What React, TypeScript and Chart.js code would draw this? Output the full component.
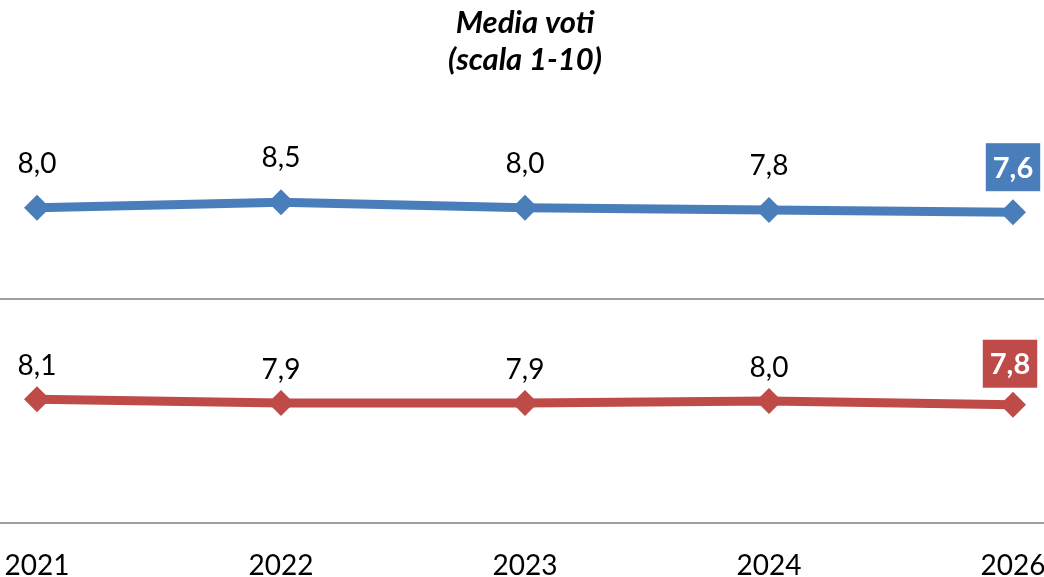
import React, { useEffect, useRef } from "react";
import { Chart, registerables } from "chart.js";

Chart.register(...registerables);

const years = ["2021", "2022", "2023", "2024", "2026"];
const seriesBlue = [8.0, 8.5, 8.0, 7.8, 7.6];
const seriesRed = [8.1, 7.9, 7.9, 8.0, 7.8];
const titleLines = ["Media voti", "(scala 1-10)"];

const BLUE = "#4A7EBB";
const RED = "#BE4B48";
const FONT = "Lato, 'Open Sans', sans-serif";

const fmt = (v: number) => v.toFixed(1).replace(".", ",");

const separatorPlugin = {
  id: "separators",
  beforeDatasetsDraw(chart: any) {
    const ctx = chart.ctx;
    ctx.save();
    ctx.strokeStyle = "#A0A0A0";
    ctx.lineWidth = 2;
    ["yTop", "yBot"].forEach((id) => {
      const s = chart.scales[id];
      const y = Math.round(s.bottom) + 1;
      ctx.beginPath();
      ctx.moveTo(0, y);
      ctx.lineTo(chart.width, y);
      ctx.stroke();
    });
    ctx.restore();
  },
};

const labelPlugin = {
  id: "valueLabels",
  afterDatasetsDraw(chart: any) {
    const ctx = chart.ctx;
    ctx.save();
    chart.data.datasets.forEach((ds: any, di: number) => {
      const meta = chart.getDatasetMeta(di);
      const offset = ds.labelOffset as number;
      meta.data.forEach((pt: any, i: number) => {
        const text = fmt(ds.data[i] as number);
        const last = i === ds.data.length - 1;
        ctx.textAlign = "center";
        ctx.textBaseline = "middle";
        if (last) {
          ctx.font = `bold 29px ${FONT}`;
          const w = ctx.measureText(text).width + 14;
          const h = 48;
          const cx = pt.x + ds.boxDx;
          const cy = pt.y - ds.boxOffset;
          ctx.fillStyle = ds.borderColor;
          ctx.fillRect(cx - w / 2, cy - h / 2, w, h);
          ctx.fillStyle = "#FFFFFF";
          ctx.fillText(text, cx, cy + 1);
        } else {
          ctx.font = `28px ${FONT}`;
          ctx.fillStyle = "#000000";
          ctx.fillText(text, pt.x, pt.y - offset);
        }
      });
    });
    ctx.restore();
  },
};

export default function App() {
  const ref = useRef<HTMLCanvasElement | null>(null);

  useEffect(() => {
    if (!ref.current) return;
    const chart = new Chart(ref.current, {
      type: "line",
      data: {
        labels: years,
        datasets: [
          {
            label: "Blu",
            data: seriesBlue,
            yAxisID: "yTop",
            borderColor: BLUE,
            backgroundColor: BLUE,
            borderWidth: 9,
            pointStyle: "rectRot",
            pointRadius: 13,
            pointBorderWidth: 0,
            pointBackgroundColor: BLUE,
            tension: 0,
            clip: false,
            labelOffset: 44,
            boxOffset: 45,
            boxDx: 0,
          } as any,
          {
            label: "Rosso",
            data: seriesRed,
            yAxisID: "yBot",
            borderColor: RED,
            backgroundColor: RED,
            borderWidth: 9,
            pointStyle: "rectRot",
            pointRadius: 13,
            pointBorderWidth: 0,
            pointBackgroundColor: RED,
            tension: 0,
            clip: false,
            labelOffset: 33,
            boxOffset: 41,
            boxDx: -3,
          } as any,
        ],
      },
      options: {
        responsive: false,
        animation: false,
        layout: { padding: { left: 37, right: 31, top: 0, bottom: 0 } },
        plugins: {
          legend: { display: false },
          tooltip: { enabled: false },
          title: {
            display: true,
            text: titleLines,
            color: "#000000",
            font: { family: FONT, size: 31, weight: "bold", style: "italic", lineHeight: 37 / 31 },
            padding: { top: 4, bottom: 0 },
          },
        },
        scales: {
          x: {
            type: "category",
            offset: false,
            grid: { display: false, drawTicks: false },
            border: { display: false },
            ticks: {
              color: "#000000",
              font: { family: FONT, size: 28 },
              padding: 27,
              maxRotation: 0,
              autoSkip: false,
            },
            afterFit: (scale: any) => {
              scale.height = 55;
              scale.paddingLeft = 0;
              scale.paddingRight = 0;
            },
          },
          yBot: {
            type: "linear",
            display: false,
            position: "left",
            stack: "v",
            stackWeight: 224,
            min: 1.46,
            max: 13.57,
          },
          yTop: {
            type: "linear",
            display: false,
            position: "left",
            stack: "v",
            stackWeight: 220,
            min: -0.2,
            max: 19.8,
          },
        },
      },
      plugins: [separatorPlugin, labelPlugin],
    });
    return () => chart.destroy();
  }, []);

  return (
    <div style={{ position: "absolute", left: 0, top: 0, width: 1044, height: 577, background: "#fff" }}>
      <canvas ref={ref} width={1044} height={577} style={{ display: "block" }} />
    </div>
  );
}
